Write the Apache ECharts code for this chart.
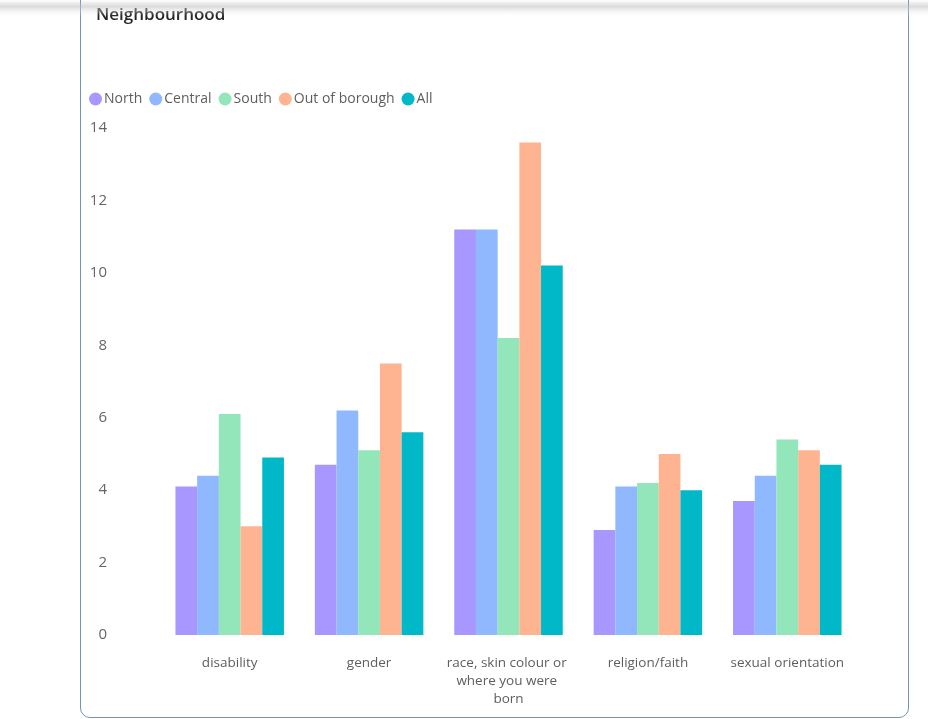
<!DOCTYPE html>
<html>
<head>
<meta charset="utf-8">
<script src="https://cdn.jsdelivr.net/npm/echarts@6/dist/echarts.min.js"></script>
<style>
  html, body { margin: 0; padding: 0; background: #fff; width: 928px; height: 719px; overflow: hidden; }
  #card { position: absolute; left: 80px; top: -12px; width: 829px; height: 730px; border: 1.5px solid #7393be; border-radius: 10px; box-sizing: border-box; }
  #shadow { position: absolute; left: 0; top: 0; width: 928px; height: 16px; background: linear-gradient(to bottom, rgba(200,200,200,0.0) 0%, rgba(190,190,190,0.55) 40%, rgba(230,230,230,0.3) 75%, rgba(255,255,255,0) 100%); z-index: 3; pointer-events: none; }
  #chart { position: absolute; left: 0; top: 0; width: 928px; height: 719px; z-index: 2; }
</style>
</head>
<body>
<div id="card"></div>
<div id="shadow"></div>
<div id="chart"></div>
<script>
const categories = ["disability", "gender", "race, skin colour or where you were born", "religion/faith", "sexual orientation"];
const seriesNames = ["North", "Central", "South", "Out of borough", "All"];
const north   = [4.1, 4.7, 11.2, 2.9, 3.7];
const central = [4.4, 6.2, 11.2, 4.1, 4.4];
const south   = [6.1, 5.1, 8.2, 4.2, 5.4];
const outOfBorough = [3.0, 7.5, 13.6, 5.0, 5.1];
const all     = [4.9, 5.6, 10.2, 4.0, 4.7];
const yTicks = [0, 2, 4, 6, 8, 10, 12, 14];
const colors = ["#a797ff", "#8fb8fe", "#93e6b9", "#ffb491", "#00b8c7"];

const values = [north, central, south, outOfBorough, all];
const chart = echarts.init(document.getElementById('chart'));
const fontFam = '"Open Sans", "Segoe UI", sans-serif';
chart.setOption({
  animation: false,
  title: {
    text: 'Neighbourhood', left: 91, top: 2,
    textStyle: { fontFamily: fontFam, fontSize: 17, fontWeight: 600, color: '#252423' }
  },
  legend: {
    data: seriesNames, left: 84, top: 87, icon: 'circle', itemWidth: 13, itemHeight: 13, itemGap: 7,
    textStyle: { fontFamily: fontFam, fontSize: 14, color: '#605e5c', padding: [0, 0, 0, -3] }
  },
  grid: { left: 160, right: 71, top: 128, bottom: 84, containLabel: false },
  xAxis: {
    type: 'category', data: categories,
    axisLine: { show: false }, axisTick: { show: false },
    axisLabel: { interval: 0, margin: 19, width: 132, overflow: 'break', lineHeight: 18,
      fontFamily: fontFam, fontSize: 13.5, color: '#605e5c' }
  },
  yAxis: {
    type: 'value', min: yTicks[0], max: yTicks[yTicks.length - 1], interval: 2,
    splitLine: { show: false }, axisLine: { show: false }, axisTick: { show: false },
    axisLabel: { margin: 53, fontFamily: fontFam, fontSize: 15, color: '#666666' }
  },
  series: seriesNames.map((n, i) => ({
    name: n, type: 'bar', data: values[i], barWidth: 21.7, barGap: '0%',
    itemStyle: { color: colors[i] }
  }))
});
</script>
</body>
</html>
